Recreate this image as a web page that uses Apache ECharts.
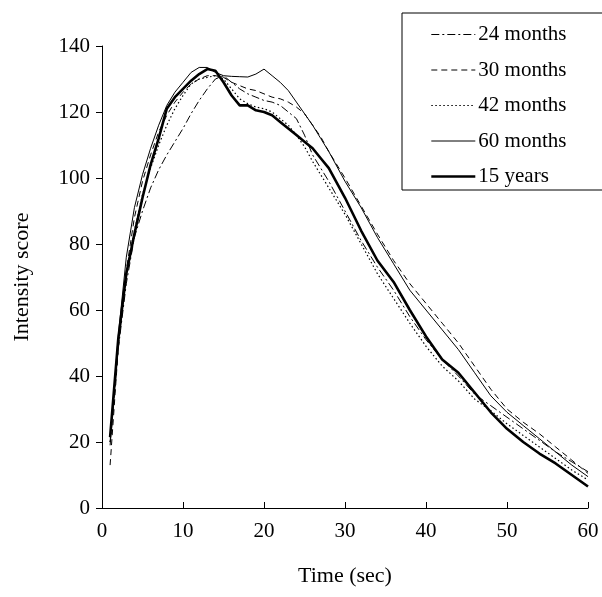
<!DOCTYPE html>
<html>
<head>
<meta charset="utf-8">
<script src="https://cdn.jsdelivr.net/npm/echarts@6/dist/echarts.min.js"></script>
<style>
  html, body { margin: 0; padding: 0; background: #fff; }
  #main { width: 602px; height: 597px; }
</style>
</head>
<body>
<div id="main"></div>
<script>
// time points (sec)
var times = [1,2,3,4,5,6,7,8,9,10,11,12,13,14,15,16,17,18,19,20,21,22,23,24,25,26,27,28,30,32,34,36,38,40,42,44,46,48,50,52,54,56,58,60];

// intensity scores
var m24 = [19,48,68,82,90,97,102.5,107,111,115,119.5,123.5,127,130,131,129,127,125.5,124.5,123.5,123,122,120,118,113,107,103,99,90,81,73,66,58,51,45,40,34.5,31,27.5,24,20.5,17,14,11];
var m30 = [13,48,72,88,99,107,114,119,123,126,128.5,130,131,131,130.5,129,128,127,126.5,125.5,124.5,124,123,121.5,119.5,116,112.5,108,100,91.5,83,75,68,62,56,50,43,36,30,26,22.5,18.5,14.5,10.5];
var m42 = [20,50,71,84,95,103,110,116,121,125,128.5,130,130.5,131,130,127,124,122.5,121.5,121,120,118,116,113,109.5,105,101,97,89,80,71,63.5,56,49,43,38.5,33,29.5,25.5,22,18.5,15,11.5,8.5];
var m60 = [20,52,76,91,101,109,116,122,126,129,132,133.5,133.5,132,131,130.8,130.7,130.6,131.5,133,131,129,126.5,123,119.5,116,112,108,99,91,82,74,66,60,54,48,41,34,29,25,21,17,13,9.5];
var y15 = [21.5,51,71,83,94,104,112,121,124.5,127,129.5,131.5,133,132.5,129,125,122,122,120.5,120,119,117,115,113,111,109,106,103,94,84,75,68.5,60,52,45,41,35,29,24,20,16.5,13.5,10,6.5];

var seriesNames = ['24 months', '30 months', '42 months', '60 months', '15 years'];
var seriesValues = [m24, m30, m42, m60, y15];
var lineTypes = [[8, 3, 2, 3], [6, 4], [1.5, 2.5], 'solid', 'solid'];
var lineWidths = [1, 1, 1.2, 1, 2.6];

function pairs(vals) {
    return times.map(function (t, i) { return [t, vals[i]]; });
}

var myChart = echarts.init(document.getElementById('main'));
var font = 'Liberation Serif';

var option = {
    backgroundColor: '#fff',
    animation: false,
    textStyle: { fontFamily: font, color: '#000' },
    grid: { left: 102, right: 14, top: 46, bottom: 89 },
    legend: {
        orient: 'vertical',
        left: 402,
        top: 13,
        padding: [11, 50, 3, 28],
        itemGap: 14.5,
        itemWidth: 44,
        itemHeight: 12,
        borderColor: '#000',
        borderWidth: 1,
        itemStyle: { opacity: 0 },   // hide the symbol, keep the line
        textStyle: { fontFamily: font, fontSize: 21, color: '#000', padding: [0, 0, 0, -2] },
        data: seriesNames.map(function (name, i) {
            return {
                name: name,
                lineStyle: { color: '#000', width: lineWidths[i], type: lineTypes[i] }
            };
        })
    },
    xAxis: {
        type: 'value',
        min: 0, max: 60, interval: 10,
        name: 'Time (sec)',
        nameLocation: 'middle',
        nameGap: 57,
        nameTextStyle: { fontFamily: font, fontSize: 22, color: '#000' },
        axisLine: { onZero: false, lineStyle: { color: '#000', width: 1 } },
        axisTick: { inside: true, length: 6, lineStyle: { color: '#000' } },
        axisLabel: { fontFamily: font, fontSize: 21, color: '#000', margin: 13 },
        splitLine: { show: false }
    },
    yAxis: {
        type: 'value',
        min: 0, max: 140, interval: 20,
        name: 'Intensity score',
        nameLocation: 'middle',
        nameGap: 69,
        nameTextStyle: { fontFamily: font, fontSize: 22, color: '#000' },
        axisLine: { show: true, lineStyle: { color: '#000', width: 1 } },
        axisTick: { show: true, length: 6, lineStyle: { color: '#000' } },
        axisLabel: { fontFamily: font, fontSize: 21, color: '#000', margin: 12 },
        splitLine: { show: false }
    },
    series: seriesNames.map(function (name, i) {
        return {
            name: name,
            type: 'line',
            symbol: 'none',
            smooth: false,
            color: '#000',
            lineStyle: { color: '#000', width: lineWidths[i], type: lineTypes[i] },
            data: pairs(seriesValues[i])
        };
    })
};

myChart.setOption(option);
</script>
</body>
</html>
